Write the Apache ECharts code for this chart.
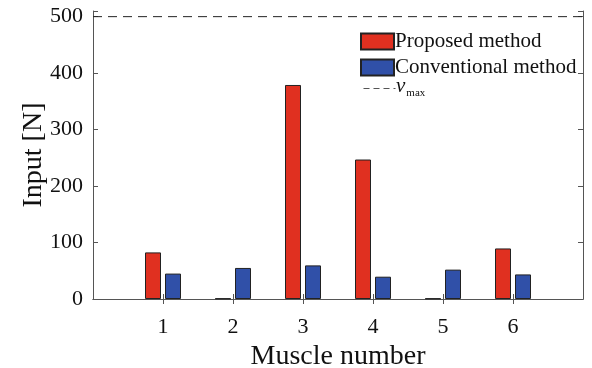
<!DOCTYPE html>
<html>
<head>
<meta charset="utf-8">
<script src="https://cdn.jsdelivr.net/npm/echarts@6/dist/echarts.min.js"></script>
<style>
  html, body { margin: 0; padding: 0; background: #fff; }
  #chart { width: 592px; height: 368px; }
</style>
</head>
<body>
<div id="chart"></div>
<script>
// 肌肉编号与两种方法的输入力
const muscles = ['1', '2', '3', '4', '5', '6'];
const proposed = [82.5, 1, 379, 247, 1, 89.5];
const conventional = [45, 55, 59.5, 39.5, 52, 43.5];
const vMax = 500;
const yTicks = [0, 100, 200, 300, 400, 500];

const FONT = 'Liberation Serif';
const axisColor = '#555';

// 两端各留一个空位（0 和 7）
const xData = ['0'].concat(muscles, ['7']);
const pad = (arr) => ['-'].concat(arr, ['-']);
const tickFilter = (i) => i > 0 && i < xData.length - 1;

const myChart = echarts.init(document.getElementById('chart'));

const option = {
  animation: false,
  backgroundColor: '#fff',
  grid: {
    left: 93,
    right: 9,
    top: 11,
    bottom: 69,
    outerBoundsMode: 'none',
    containLabel: false,
  },
  legend: {
    orient: 'vertical',
    left: 360,
    top: 31,
    itemWidth: 33,
    itemHeight: 16,
    itemGap: 5,
    padding: 0,
    textStyle: {
      fontFamily: FONT,
      fontSize: 21,
      color: '#111',
      padding: [0, 0, 0, -4],
    },
    data: ['Proposed method', 'Conventional method'],
    icon: 'rect',
  },
  // v_max 图例手动绘制
  graphic: [
    {
      type: 'line',
      left: 361,
      top: 86,
      shape: { x1: 0, y1: 0, x2: 32, y2: 0 },
      style: { stroke: '#555', lineWidth: 1.2, lineDash: [6, 4] },
    },
    {
      type: 'text',
      left: 396,
      top: 76,
      style: {
        text: '{v|v}{s|max}',
        rich: {
          v: { fontFamily: FONT, fontSize: 21, fontStyle: 'italic', fill: '#111' },
          s: { fontFamily: FONT, fontSize: 11, fill: '#111', padding: [14, 0, 0, 1] },
        },
      },
    },
  ],
  xAxis: [
    {
      type: 'category',
      data: xData,
      boundaryGap: false,
      name: 'Muscle number',
      nameLocation: 'middle',
      nameGap: 39,
      nameTextStyle: { fontFamily: FONT, fontSize: 28, color: '#111' },
      axisLine: { show: true, lineStyle: { color: axisColor, width: 1 } },
      axisTick: { show: true, inside: true, length: 5, lineStyle: { color: axisColor }, interval: tickFilter },
      axisLabel: {
        fontFamily: FONT,
        fontSize: 22,
        color: '#111',
        margin: 17,
        formatter: (v) => (muscles.indexOf(v) >= 0 ? v : ''),
      },
      splitLine: { show: false },
    },
    {
      type: 'category',
      data: xData,
      boundaryGap: false,
      position: 'top',
      axisLine: { show: true, lineStyle: { color: axisColor, width: 1 } },
      axisTick: { show: true, inside: true, length: 5, lineStyle: { color: axisColor }, interval: tickFilter },
      axisLabel: { show: false },
      splitLine: { show: false },
    },
  ],
  yAxis: [
    {
      type: 'value',
      min: 0,
      max: 510,
      interval: 100,
      name: 'Input [N]',
      nameLocation: 'middle',
      nameGap: 45,
      nameMoveOverlap: false,
      nameTextStyle: { fontFamily: FONT, fontSize: 28, color: '#111' },
      axisLine: { show: true, lineStyle: { color: axisColor, width: 1 } },
      axisTick: { show: true, inside: true, length: 5, lineStyle: { color: axisColor } },
      axisLabel: {
        fontFamily: FONT,
        fontSize: 22,
        color: '#111',
        margin: 10,
        formatter: (v) => (yTicks.indexOf(v) >= 0 ? String(v) : ''),
      },
      splitLine: { show: false },
    },
    {
      type: 'value',
      min: 0,
      max: 510,
      interval: 100,
      position: 'right',
      axisLine: { show: true, lineStyle: { color: axisColor, width: 1 } },
      axisTick: { show: true, inside: true, length: 5, lineStyle: { color: axisColor } },
      axisLabel: { show: false },
      splitLine: { show: false },
    },
  ],
  series: [
    {
      name: 'Proposed method',
      type: 'bar',
      data: pad(proposed),
      barWidth: 16,
      barGap: '25%',
      itemStyle: { color: '#E03020', borderColor: '#222', borderWidth: 1 },
    },
    {
      name: 'Conventional method',
      type: 'bar',
      data: pad(conventional),
      barWidth: 16,
      barGap: '25%',
      itemStyle: { color: '#3050A8', borderColor: '#222', borderWidth: 1 },
    },
    {
      name: 'vmax',
      type: 'line',
      data: xData.map(() => vMax),
      symbol: 'none',
      lineStyle: { color: '#222', width: 1, type: [9, 6] },
      z: 5,
    },
  ],
};

myChart.setOption(option);
</script>
</body>
</html>
